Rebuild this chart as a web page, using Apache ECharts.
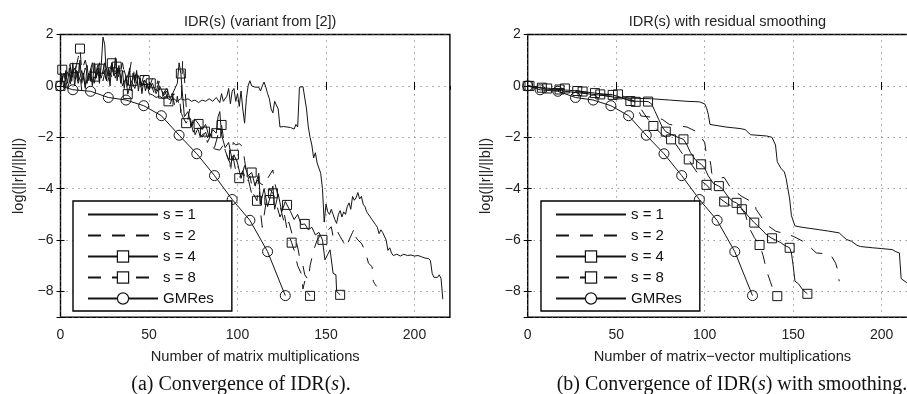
<!DOCTYPE html>
<html><head><meta charset="utf-8">
<script src="https://cdn.jsdelivr.net/npm/echarts@6/dist/echarts.min.js"></script>
<style>html,body{margin:0;padding:0;background:#fff;overflow:hidden}#c{width:920px;height:394px}</style>
</head><body><div id="c"></div>
<script>
const SANS = '"Liberation Sans", Arial, Helvetica, sans-serif';
const SERIF = '"Liberation Serif", "Times New Roman", serif';

const seriesNames = ['s = 1', 's = 2', 's = 4', 's = 8', 'GMRes'];
const xTicks = [0, 50, 100, 150, 200];
const yTicks = [-8, -6, -4, -2, 0, 2];
const plotTitles = ['IDR(s) (variant from [2])', 'IDR(s) with residual smoothing'];
const xNames = ['Number of matrix multiplications', 'Number of matrix\u2212vector multiplications'];
const yName = 'log(||r||/||b||)';

// ---------- (a) IDR(s) variant from [2] ----------
const aS1 = [[0,0],[1,0.3],[2,-0.1],[3,0.5],[4,0.1],[5,0.7],[6,0.2],[7,0.9],[8,0.0],[9,0.6],[10,0.3],[11,1.0],[12,0.1],[13,0.5],[14,-0.1],[15,0.8],[16,0.2],[17,0.6],[18,0.0],[19,0.9],[20,0.3],[21,0.7],[22,0.1],[23,0.8],[24,1.9],[25,1.6],[26,0.2],[27,0.7],[28,0.0],[29,0.9],[30,0.4],[31,1.1],[32,0.2],[33,0.8],[34,0.1],[35,0.6],[36,-0.1],[37,0.4],[38,0.0],[39,0.7],[40,-0.2],[41,0.5],[42,0.1],[43,0.6],[44,-0.2],[45,0.3],[46,-0.3],[47,0.2],[48,-0.2],[49,0.1],[50,-0.3],[52,-0.35],[54,-0.45],[56,-0.4],[58,-0.5],[60,-0.45],[62,-0.55],[64,-0.5],[66,-0.6],[68,-0.5],[70,-0.55],[72,-0.5],[74,-0.6],[76,-0.55],[78,-0.65],[80,-0.55],[82,-0.6],[84,-0.5],[86,-0.6],[88,-0.45],[90,-0.65],[91,-0.3],[92,-0.6],[94,-0.4],[95,-0.1],[96,-0.7],[97,-0.2],[98,-0.1],[99,-0.6],[100,-0.3],[101,-0.8],[102,-0.2],[103,-0.9],[104,-1.45],[105,-0.5],[106,0.0],[107,0.2],[108,0.0],[109,0.05],[110,-0.05],[111,-0.1],[112,-0.05],[113,-0.2],[114,0.0],[115,0.15],[116,-0.05],[117,-0.3],[118,-0.5],[119,-0.9],[120,-1.05],[121,-0.6],[122,-0.55],[123,-0.9],[124,-1.6],[126,-1.58],[128,-1.6],[130,-1.62],[132,-1.68],[133,-1.5],[134,-1.6],[135,-0.05],[136,-0.02],[137,-0.03],[138,-0.1],[139,-0.9],[140,-1.6],[141,-2.0],[142,-2.3],[143,-2.8],[144,-2.6],[145,-3.0],[146,-3.2],[147,-3.4],[148,-4.0],[149,-5.3],[150,-4.6],[151,-4.9],[152,-5.0],[153,-4.8],[154,-5.0],[155,-5.2],[156,-5.35],[157,-5.0],[158,-4.85],[159,-5.1],[160,-4.9],[161,-5.0],[162,-4.7],[163,-4.55],[164,-4.8],[165,-4.3],[166,-4.45],[167,-4.35],[168,-4.15],[169,-4.4],[170,-4.3],[171,-4.6],[172,-4.7],[173,-4.9],[174,-4.95],[175,-5.1],[176,-5.2],[177,-5.3],[178,-5.4],[179,-5.5],[180,-5.75],[181,-5.6],[182,-5.7],[183,-5.65],[184,-6.0],[185,-6.4],[186,-6.3],[187,-6.5],[188,-6.6],[190,-6.55],[192,-6.62],[194,-6.55],[196,-6.6],[198,-6.58],[200,-6.62],[202,-6.6],[204,-6.65],[206,-6.7],[208,-6.72],[209,-6.8],[210,-7.3],[211,-7.45],[212,-7.4],[213,-7.45],[214,-7.35],[215,-7.5],[216,-8.3]];

const aS2 = [[0,0],[1,0.4],[2,0.1],[3,0.6],[4,0.2],[5,0.5],[6,-0.1],[7,0.7],[8,0.3],[9,0.9],[10,0.2],[11,0.5],[12,-0.2],[13,0.4],[14,0.7],[15,0.1],[16,0.6],[17,0.3],[18,0.8],[19,0.1],[20,0.4],[22,0.9],[23,0.3],[25,0.6],[26,0.0],[28,0.5],[30,0.2],[32,0.7],[34,0.3],[36,0.6],[38,0.1],[40,0.95],[41,0.8],[42,0.2],[44,0.5],[46,0.0],[48,0.3],[50,-0.1],[52,0.3],[54,-0.2],[56,0.2],[58,-0.4],[60,-0.2],[62,-0.7],[64,-0.3],[66,-0.5],[67.5,-0.6],[68,-1.05],[69,1.0],[70,0.35],[71,-0.8],[72,-1.3],[73,-0.9],[74,-1.6],[75,-1.3],[76,-1.9],[78,-1.6],[80,-2.0],[82,-1.8],[84,-2.2],[85.5,-2.36],[87,-2.45],[88,-2.4],[90,-2.5],[92,-2.3],[94,-2.7],[95.8,-3.0],[96,-3.4],[97.6,-2.2],[99,-2.3],[101,-2.25],[103,-2.37],[104,-2.9],[105,-3.3],[107,-3.9],[108,-4.2],[110,-3.8],[111.6,-3.66],[113,-3.8],[115.5,-3.9],[117,-3.6],[120,-3.27],[121,-3.77],[123,-4.3],[125,-4.95],[127,-5.48],[129,-5.3],[131,-5.8],[133,-6.0],[134.3,-6.38],[135.3,-6.77],[137,-7.0],[138,-7.35],[140,-7.55],[141,-7.0],[143,-6.4],[145,-6.0],[147,-5.8],[150,-5.7],[153,-5.48],[154,-5.86],[156,-5.6],[158,-5.86],[160,-6.1],[161.7,-6.3],[163,-6.0],[165,-5.7],[166,-5.54],[167,-5.9],[168,-6.0],[170,-6.12],[172,-6.4],[173,-6.64],[174,-6.9],[176,-7.03],[176.7,-7.6],[177.5,-7.7],[178.6,-7.8]];

const aS4 = [[0,0],[2,0.5],[4,-0.1],[6,0.4],[8,0.69],[10,0.1],[12,0.6],[14,0.0],[16,0.5],[18,0.2],[19.5,0.36],[21,0.8],[23,0.3],[25,0.9],[27,0.4],[29,0.88],[31,0.3],[33,0.7],[35,0.0],[37,0.3],[38,-0.32],[40,0.2],[42,-0.1],[44,0.4],[46,0.0],[47.5,0.23],[50,-0.1],[52,0.1],[54,-0.3],[56,0.0],[58,-0.3],[60,-0.1],[62,-0.5],[64,-0.2],[66,0.1],[67,0.9],[68,0.48],[69,-0.4],[70,-1.2],[72,-1.0],[74,-1.6],[76,-1.3],[78,-1.48],[80,-1.7],[82,-1.5],[84,-2.0],[86,-1.7],[88,-1.84],[89,-1.2],[90,-1.0],[91,-1.9],[93,-2.4],[95,-2.2],[97,-2.9],[98,-2.68],[100,-3.0],[102,-3.6],[104,-3.1],[106,-3.5],[108,-3.37],[110,-3.9],[112,-3.4],[113,-4.6],[115,-4.0],[117,-4.7],[118,-4.44],[120,-3.9],[121,-4.8],[123,-4.2],[125,-4.9],[127,-4.5],[128,-4.63],[130,-4.9],[132,-5.2],[134,-5.0],[136,-5.4],[138,-5.37],[140,-5.6],[142,-5.5],[144,-5.8],[146,-5.7],[148,-5.99],[149.4,-6.77],[152.3,-6.38],[154,-7.29],[155.6,-7.35],[156,-8.0],[158,-8.13]];
const aS4Mk = [0,8,19.5,29,38,47.5,58,68,78,88,98,108,118,128,138,148,158];

const aS8 = [[0,0],[1,0.63],[3,0.2],[5,0.9],[7,0.3],[9,0.8],[10,1.1],[11,1.45],[12,0.6],[14,1.0],[16,0.4],[18,0.9],[20,0.3],[22,0.67],[24,0.2],[26,0.8],[28,0.4],[30,1.0],[31.7,0.75],[33,0.3],[35,0.9],[37,0.2],[39,0.6],[41,0.2],[43,0.5],[45,-0.1],[47,0.4],[49,0.0],[51,0.1],[53,-0.3],[55,0.2],[57,-0.5],[59,-0.2],[61,-0.6],[63,-0.3],[65,-0.9],[66,-0.4],[67,-0.8],[69,-1.2],[71,-1.45],[73,-1.2],[75,-1.8],[77,-1.5],[79,-2.0],[81.6,-1.78],[83,-2.2],[85,-1.9],[87,-2.4],[89,-1.9],[91,-1.52],[93,-2.5],[95,-2.9],[97,-2.6],[99,-3.3],[101,-3.59],[103,-3.3],[105,-3.8],[107,-3.5],[109,-4.2],[111,-4.47],[112,-3.5],[113,-4.9],[114,-5.5],[116,-4.6],[118,-4.0],[120,-4.18],[122,-4.6],[124,-5.1],[126,-4.8],[128,-5.6],[130.6,-6.1],[132,-6.4],[134,-7.0],[136,-7.3],[137,-7.9],[138,-7.6],[139,-8.0],[141,-8.17]];
const aS8Mk = [1,11,22,31.7,41,51,61,71,81.6,91,101,111,120,130.6,141];

// GMRes (same in both panels)
const gmX = [0, 7, 17, 27, 37, 47, 57, 67, 77, 87, 97, 107, 117, 127];
const gmY = [0, -0.15, -0.21, -0.45, -0.55, -0.77, -1.16, -1.92, -2.64, -3.49, -4.42, -5.23, -6.45, -8.16];

// ---------- (b) IDR(s) with residual smoothing ----------
const bS1 = [[0,0],[5,-0.05],[10,-0.12],[20,-0.2],[30,-0.28],[40,-0.35],[50,-0.45],[60,-0.48],[70,-0.5],[80,-0.55],[90,-0.6],[97,-0.62],[100,-0.7],[101,-0.85],[102,-1.1],[103,-1.5],[104,-1.56],[112,-1.6],[120,-1.66],[123,-1.7],[124,-1.78],[126,-1.9],[135,-1.95],[138,-2.0],[140,-2.3],[141,-2.95],[143,-3.2],[145,-3.35],[146,-3.6],[147,-3.65],[148,-4.4],[149,-5.05],[151,-5.45],[155,-5.5],[160,-5.55],[165,-5.6],[170,-5.65],[176,-5.72],[178,-5.85],[180,-5.97],[183,-6.05],[186,-6.2],[188,-6.25],[195,-6.3],[200,-6.33],[206,-6.37],[208,-6.45],[210,-6.5],[211,-7.5],[214,-7.65],[218,-7.75]];

const bS2 = [[0,0],[10,-0.1],[20,-0.15],[30,-0.25],[40,-0.35],[50,-0.42],[60,-0.6],[62,-0.84],[64,-1.17],[68,-1.2],[72,-1.25],[76,-1.3],[80,-1.5],[85,-1.55],[90,-1.6],[96,-1.8],[100,-2.2],[101,-2.67],[103,-2.9],[103.5,-3.1],[104,-3.4],[107.7,-3.6],[111,-3.56],[115,-4.0],[121,-4.3],[125,-4.45],[128.4,-4.55],[129,-4.8],[132,-5.1],[135,-5.4],[140,-5.65],[145,-5.75],[150,-5.85],[157,-6.1],[160,-6.3],[163,-6.5],[171,-6.55],[174,-6.9],[175,-7.14],[176,-7.6]];

const bS4 = [[0,0],[4,-0.04],[8,-0.07],[13,-0.1],[18,-0.14],[23,-0.17],[28,-0.2],[33,-0.24],[38,-0.28],[43,-0.32],[48,-0.35],[53,-0.45],[58,-0.59],[63,-0.6],[68,-0.61],[70,-0.7],[72,-1.0],[74,-1.3],[76,-1.6],[78,-1.78],[80,-1.85],[83,-1.95],[85,-2.0],[88,-2.08],[90,-2.3],[92,-2.6],[95,-2.9],[98,-3.05],[100,-3.2],[102,-3.5],[105,-3.8],[108,-3.9],[110,-4.0],[113,-4.3],[116,-4.5],[118,-4.55],[120,-4.7],[122,-4.85],[125,-5.1],[128,-5.32],[130,-5.45],[133,-5.65],[135,-5.8],[138,-5.93],[140,-6.0],[143,-6.1],[145,-6.2],[148,-6.3],[149,-6.5],[150,-7.0],[151,-7.6],[153,-7.7],[155,-7.9],[158,-8.09]];
const bS4Mk = [0,8,18,28,38,48,58,68,78,88,98,108,118,128,138,148,158];

const bS8 = [[0,0],[1,0],[6,-0.06],[11,-0.1],[16,-0.1],[21,-0.1],[26,-0.16],[31,-0.22],[36,-0.28],[41,-0.33],[46,-0.33],[51,-0.33],[56,-0.45],[61,-0.62],[63,-0.8],[66,-1.1],[68,-1.3],[71,-1.56],[73,-1.7],[76,-1.9],[78,-2.0],[81,-2.08],[83,-2.2],[86,-2.5],[88,-2.7],[91,-2.86],[93,-3.1],[96,-3.4],[98,-3.7],[101,-3.85],[103,-4.0],[106,-4.2],[108,-4.35],[111,-4.5],[113,-4.6],[116,-4.7],[118,-4.75],[121,-4.8],[123,-5.0],[125,-5.5],[128,-5.9],[131,-6.19],[133,-6.6],[135,-7.2],[137,-7.6],[139,-8.0],[141,-8.18]];
const bS8Mk = [1,11,21,31,41,51,61,71,81,91,101,111,121,131,141];

// ---------- layout ----------
const panels = [
  { left: 60.5, caption: '(a) Convergence of IDR({i|s}).', capX: 236, legendLeft: 73 },
  { left: 527.7, caption: '(b) Convergence of IDR({i|s}) with smoothing.', capX: 727, legendLeft: 541 }
];
const PW = 389.4, PT = 34.5, PH = 282.7;
const INK = '#141414';

function fmtY(v) { return (Math.round(v) % 2 === 0) ? String(v).replace('-', '\u2212') : ''; }

const grids = [], xAxes = [], yAxes = [], titles = [], legends = [], series = [];
panels.forEach((p, gi) => {
  grids.push({ left: p.left, top: PT, width: PW, height: PH, show: true, borderColor: '#000', borderWidth: 1.4, backgroundColor: '#fff' });
  xAxes.push({
    type: 'value', gridIndex: gi, min: 0, max: 220, interval: 50, position: 'bottom',
    name: xNames[gi], nameLocation: 'middle', nameGap: 32,
    nameTextStyle: { fontFamily: SANS, fontSize: 14.7, color: '#222' },
    axisLine: { show: false },
    axisTick: { inside: true, length: 4, lineStyle: { color: '#000' } },
    axisLabel: { fontFamily: SANS, fontSize: 14, color: '#222', margin: 11, showMaxLabel: false },
    splitLine: { show: true, lineStyle: { color: '#666', type: [1, 5], width: 1 } }
  });
  xAxes.push({
    type: 'value', gridIndex: gi, min: 0, max: 220, interval: 50, position: 'top',
    axisLine: { show: false }, axisLabel: { show: false }, splitLine: { show: false },
    axisTick: { inside: true, length: 4, lineStyle: { color: '#000' } }
  });
  // y ticks come out at -8, -6, ..., 2 from the nice step (2) over [-9, 2]
  yAxes.push({
    type: 'value', gridIndex: gi, min: -9, max: 2, splitNumber: 5, position: 'left',
    name: yName, nameLocation: 'middle', nameGap: 34,
    nameTextStyle: { fontFamily: SANS, fontSize: 14.5, color: '#222' },
    axisLine: { show: false },
    axisTick: { inside: true, length: 4, lineStyle: { color: '#000' } },
    axisLabel: { fontFamily: SANS, fontSize: 14, color: '#222', margin: 7, formatter: fmtY },
    splitLine: { show: true, lineStyle: { color: '#666', type: [1, 5], width: 1 } }
  });
  yAxes.push({
    type: 'value', gridIndex: gi, min: -9, max: 2, splitNumber: 5, position: 'right',
    axisLine: { show: false }, axisLabel: { show: false }, splitLine: { show: false },
    axisTick: { inside: true, length: 4, lineStyle: { color: '#000' } }
  });
  titles.push({
    text: plotTitles[gi], left: p.left + PW / 2, top: 9, textAlign: 'center',
    textStyle: { fontFamily: SANS, fontSize: 14.5, fontWeight: 'normal', color: '#222' }
  });
  titles.push({
    text: p.caption, left: p.capX, top: 370, textAlign: 'center',
    textStyle: { fontFamily: SERIF, fontSize: 20, fontWeight: 'normal', color: '#111',
      rich: { i: { fontFamily: SERIF, fontSize: 20, fontStyle: 'italic', color: '#111' } } }
  });
  legends.push({
    left: p.legendLeft, top: 201, orient: 'vertical',
    backgroundColor: '#fff', borderColor: '#000', borderWidth: 1.4,
    padding: [6, 18, 5, 14], itemGap: 6, itemWidth: 70, itemHeight: 14,
    textStyle: { fontFamily: SANS, fontSize: 15, color: '#111' },
    selectedMode: false,
    data: [
      { name: seriesNames[0], itemStyle: { opacity: 0 } },
      { name: seriesNames[1], itemStyle: { opacity: 0 } },
      { name: seriesNames[2], itemStyle: { color: '#fff', borderColor: INK, borderWidth: 1.2 } },
      { name: seriesNames[3], itemStyle: { color: '#fff', borderColor: INK, borderWidth: 1.2 } },
      { name: seriesNames[4], itemStyle: { color: '#fff', borderColor: INK, borderWidth: 1.2 } }
    ]
  });
});

function mkSeries(name, pts, gi, dashed, symbol, marks, size) {
  const data = pts.map(([x, y]) => {
    const show = marks ? marks.indexOf(x) >= 0 : !!symbol;
    return show ? { value: [x, y] } : { value: [x, y], symbol: 'none' };
  });
  return {
    name, type: 'line', xAxisIndex: gi * 2, yAxisIndex: gi * 2, data,
    symbol: symbol || 'circle', symbolSize: size || 9, showSymbol: !!symbol, showAllSymbol: true,
    lineStyle: { color: INK, width: 1, type: dashed ? [13, 11] : 'solid' },
    itemStyle: { color: 'rgba(255,255,255,0)', borderColor: INK, borderWidth: 1 },
    emphasis: { disabled: true }, silent: true, z: 3
  };
}

const sets = [
  { s1: aS1, s2: aS2, s4: aS4, s4m: aS4Mk, s8: aS8, s8m: aS8Mk },
  { s1: bS1, s2: bS2, s4: bS4, s4m: bS4Mk, s8: bS8, s8m: bS8Mk }
];
const gmPts = gmX.map((x, i) => [x, gmY[i]]);
sets.forEach((d, gi) => {
  series.push(mkSeries(seriesNames[0], d.s1, gi, false, null, null));
  series.push(mkSeries(seriesNames[1], d.s2, gi, true, null, null));
  series.push(mkSeries(seriesNames[2], d.s4, gi, false, 'rect', d.s4m, 9));
  series.push(mkSeries(seriesNames[3], d.s8, gi, true, 'rect', d.s8m, 9));
  series.push(mkSeries(seriesNames[4], gmPts, gi, false, 'circle', gmX, 10));
});

const chart = echarts.init(document.getElementById('c'), null, { renderer: 'canvas' });
chart.setOption({
  animation: false, backgroundColor: '#fff',
  grid: grids, xAxis: xAxes, yAxis: yAxes, title: titles, legend: legends, series
});
</script></body></html>
